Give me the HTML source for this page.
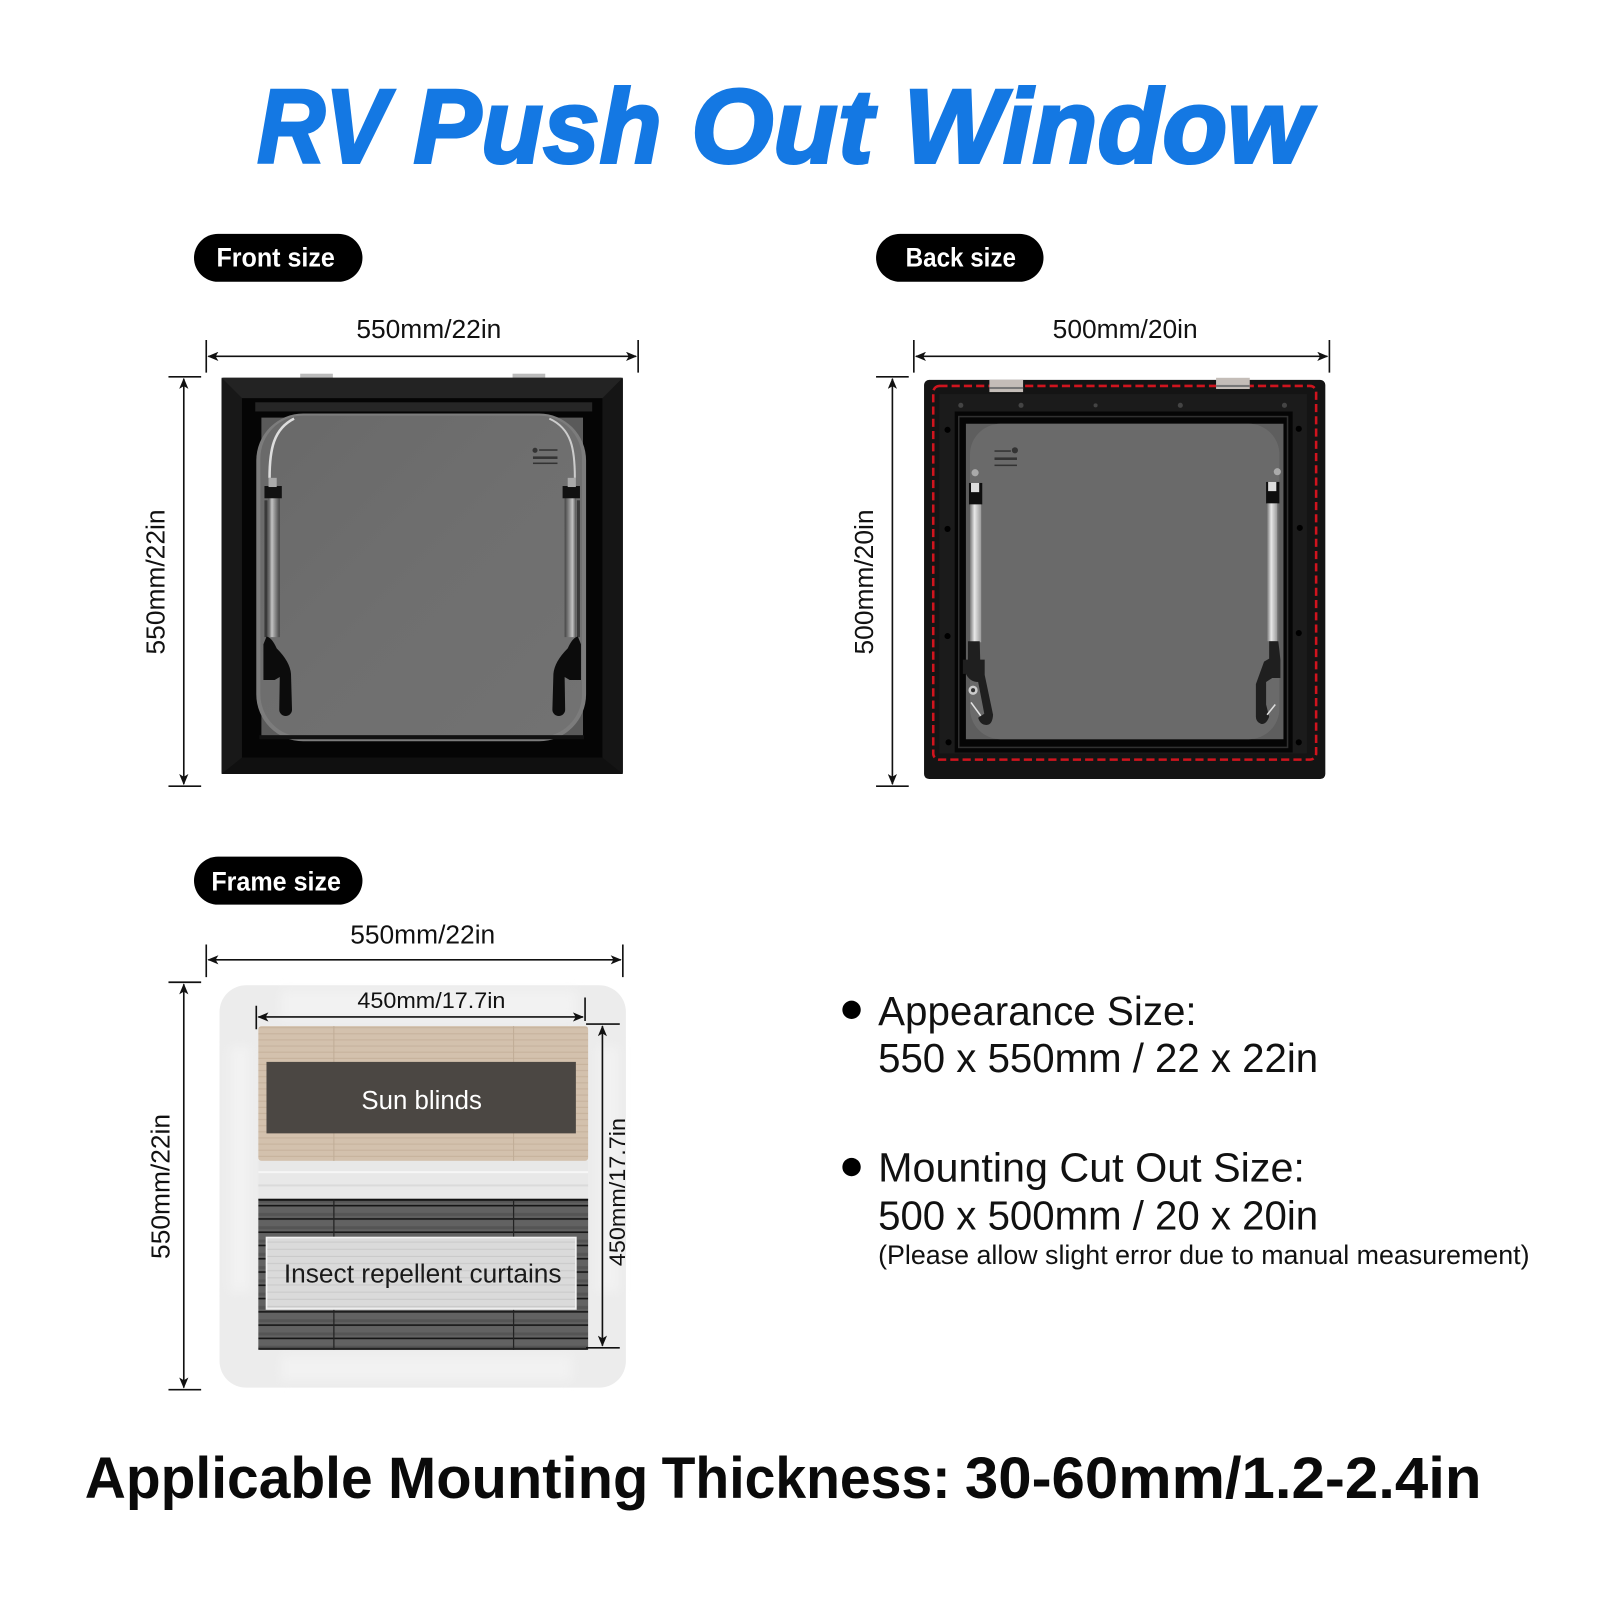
<!DOCTYPE html>
<html><head><meta charset="utf-8"><style>
html,body{margin:0;padding:0;background:#fff}
svg{display:block}
text{font-family:"Liberation Sans",sans-serif}
</style></head><body>
<svg xmlns="http://www.w3.org/2000/svg" width="1601" height="1601" viewBox="0 0 1568 1568">
<defs>
<marker id="a" viewBox="0 0 12 10" refX="11" refY="5" markerWidth="12" markerHeight="9" markerUnits="userSpaceOnUse" orient="auto-start-reverse"><path d="M0,0L12,5L0,10L3,5z" fill="#111"/></marker>
<filter id="b" x="-20%" y="-20%" width="140%" height="140%"><feGaussianBlur stdDeviation="5"/></filter>
<linearGradient id="g1" x1="0" x2="1" y1="0" y2="1"><stop offset="0" stop-color="#696969"/><stop offset=".5" stop-color="#6f6f6f"/><stop offset="1" stop-color="#727272"/></linearGradient>
<linearGradient id="st" x1="0" x2="1" y1="0" y2="0"><stop offset="0" stop-color="#777"/><stop offset=".4" stop-color="#e8e8e8"/><stop offset="1" stop-color="#999"/></linearGradient>
<linearGradient id="st2" x1="0" x2="1" y1="0" y2="0"><stop offset="0" stop-color="#555"/><stop offset=".3" stop-color="#c4c4c4"/><stop offset=".6" stop-color="#8a8a8a"/><stop offset="1" stop-color="#444"/></linearGradient>
<pattern id="beige" width="10" height="6" patternUnits="userSpaceOnUse"><rect width="10" height="6" fill="#d3c1ad"/><rect y="4" width="10" height="1" fill="#c6b29c"/></pattern>
<pattern id="dark" width="10" height="13" patternUnits="userSpaceOnUse"><rect width="10" height="13" fill="#626262"/><rect y="5" width="10" height="3" fill="#555"/><rect y="10" width="10" height="1.6" fill="#161616"/></pattern>
<pattern id="pale" width="10" height="7" patternUnits="userSpaceOnUse"><rect width="10" height="7" fill="#dadada"/><rect y="5" width="10" height="1" fill="#c9c9c9"/></pattern>
</defs>
<rect width="1568" height="1568" fill="#fff"/>

<!-- Title -->
<g font-size="103" font-weight="700" font-style="italic" fill="#1478e3" stroke="#1478e3" stroke-width="3">
<text x="252" y="159" textLength="128" lengthAdjust="spacingAndGlyphs">RV</text>
<text x="405" y="159" textLength="243" lengthAdjust="spacingAndGlyphs">Push</text>
<text x="677" y="159" textLength="178" lengthAdjust="spacingAndGlyphs">Out</text>
<text x="885" y="159" textLength="398" lengthAdjust="spacingAndGlyphs">Window</text>
</g>

<!-- Pills -->
<rect x="190" y="229" width="165" height="47" rx="23.5" fill="#000"/>
<text x="212" y="261" font-size="26" font-weight="700" fill="#fff" textLength="116" lengthAdjust="spacingAndGlyphs">Front size</text>
<rect x="858" y="229" width="164" height="47" rx="23.5" fill="#000"/>
<text x="887" y="261" font-size="26" font-weight="700" fill="#fff" textLength="108" lengthAdjust="spacingAndGlyphs">Back size</text>
<rect x="190" y="839" width="165" height="47" rx="23.5" fill="#000"/>
<text x="207" y="872" font-size="26" font-weight="700" fill="#fff" textLength="127" lengthAdjust="spacingAndGlyphs">Frame size</text>

<!-- Dimensions -->
<g stroke="#111" stroke-width="1.6" fill="none">
<path d="M202,333V365M625,333V365M165,369H197M165,770H197"/>
<path d="M204,349H623" marker-start="url(#a)" marker-end="url(#a)"/>
<path d="M180,371V768" marker-start="url(#a)" marker-end="url(#a)"/>
<path d="M895,333V365M1302,333V365M858,369H890M858,770H890"/>
<path d="M897,349H1300" marker-start="url(#a)" marker-end="url(#a)"/>
<path d="M874,371V768" marker-start="url(#a)" marker-end="url(#a)"/>
<path d="M202,925V957M610,925V957M165,962H197M165,1361H197"/>
<path d="M204,940H608" marker-start="url(#a)" marker-end="url(#a)"/>
<path d="M180,964V1359" marker-start="url(#a)" marker-end="url(#a)"/>
</g>
<g font-size="25" fill="#111">
<text x="349" y="331" textLength="142" lengthAdjust="spacingAndGlyphs">550mm/22in</text>
<text x="1031" y="331" textLength="142" lengthAdjust="spacingAndGlyphs">500mm/20in</text>
<text x="343" y="924" textLength="142" lengthAdjust="spacingAndGlyphs">550mm/22in</text>
<text transform="translate(161,641) rotate(-90)" textLength="142" lengthAdjust="spacingAndGlyphs">550mm/22in</text>
<text transform="translate(855,641) rotate(-90)" textLength="142" lengthAdjust="spacingAndGlyphs">500mm/20in</text>
<text transform="translate(166,1233) rotate(-90)" textLength="142" lengthAdjust="spacingAndGlyphs">550mm/22in</text>
</g>

<!-- FRONT WINDOW -->
<rect x="294" y="366" width="32" height="5" fill="#bbb"/><rect x="502" y="366" width="32" height="5" fill="#bbb"/>
<rect x="217" y="370" width="393" height="388" rx="2" fill="#151515"/>
<polygon points="217,370 610,370 590,390 237,390" fill="#232323"/>
<polygon points="217,370 237,390 237,742 217,758" fill="#181818"/>
<polygon points="610,370 590,390 590,742 610,758" fill="#151515"/>
<polygon points="217,758 610,758 590,742 237,742" fill="#101010"/>
<rect x="237" y="390" width="353" height="352" fill="#050505"/>
<rect x="250" y="394" width="330" height="9" fill="#262626"/>
<rect x="256" y="409" width="315" height="313" fill="#5a5a5a"/>
<rect x="251" y="405" width="323" height="321" rx="46" fill="#7c7c7c"/>
<rect x="255" y="407" width="315" height="315" rx="42" fill="url(#g1)"/>
<path d="M264,468C264,440 268,420 288,410" stroke="#ddd" stroke-width="2.5" fill="none"/>
<path d="M563,468C563,440 560,420 538,410" stroke="#ccc" stroke-width="2" fill="none"/>
<rect x="254" y="720" width="318" height="4" fill="#111"/>
<g id="fs">
<rect x="259" y="490" width="3" height="134" fill="#3a3a3a"/>
<rect x="263" y="486" width="11" height="138" fill="url(#st2)"/>
<rect x="259" y="476" width="17" height="12" fill="#111"/>
<rect x="263" y="468" width="8" height="9" fill="#aaa"/>
<path d="M261,623.5Q266,624 271,635Q284,648 285,660L286,695A6.2,6.2 0 0 1 273.5,695L274,663L269,666H258V631z" fill="#0c0c0c"/>
</g>
<use href="#fs" transform="translate(827,0) scale(-1,1)"/>
<g fill="#333"><circle cx="524" cy="441" r="2.5"/><rect x="528" y="440" width="18" height="1.5"/><rect x="522" y="447" width="24" height="2.5"/><rect x="522" y="453" width="24" height="1.5"/></g>

<!-- BACK WINDOW -->
<rect x="905" y="372" width="393" height="391" rx="5" fill="#141414"/>
<rect x="914" y="378" width="375" height="366" rx="6" fill="none" stroke="#d0141e" stroke-width="2.5" stroke-dasharray="8 4"/>
<rect x="920" y="386" width="360" height="352" fill="#1b1b1b"/>
<rect x="935" y="403" width="331" height="334" fill="#050505"/>
<rect x="939" y="408" width="322" height="324" fill="none" stroke="#303030" stroke-width="1.5"/>
<rect x="946" y="415" width="311" height="309" fill="#5e5e5e"/>
<rect x="950" y="415" width="303" height="309" rx="30" fill="#6a6a6a"/>
<rect x="969" y="372" width="33" height="12" fill="#c4bdb8"/><rect x="969" y="379" width="33" height="2" fill="#777"/>
<rect x="1191" y="370" width="33" height="11" fill="#c4bdb8"/><rect x="1191" y="377" width="33" height="2" fill="#777"/>
<g fill="#000"><circle cx="928" cy="421" r="3"/><circle cx="928" cy="518" r="3"/><circle cx="928" cy="623" r="3"/><circle cx="929" cy="727" r="3"/><circle cx="1272" cy="420" r="3"/><circle cx="1273" cy="517" r="3"/><circle cx="1272" cy="620" r="3"/><circle cx="1272" cy="727" r="3"/></g>
<g fill="#444"><circle cx="941" cy="397" r="2.5"/><circle cx="1000" cy="397" r="2.5"/><circle cx="1073" cy="397" r="2"/><circle cx="1156" cy="397" r="2.5"/><circle cx="1258" cy="397" r="2.5"/></g>
<g fill="#333"><rect x="974" y="441" width="16" height="1.5"/><rect x="974" y="448" width="22" height="2.5"/><circle cx="994" cy="441" r="3"/><rect x="974" y="455" width="22" height="1.5"/></g>
<circle cx="955" cy="463" r="3.5" fill="#aaa"/><circle cx="1251" cy="462" r="3.5" fill="#aaa"/>
<rect x="949" y="473" width="13" height="21" fill="#0e0e0e"/><rect x="951" y="473" width="8" height="9" fill="#ddd"/>
<rect x="950" y="494" width="11" height="135" fill="url(#st)"/>
<path d="M948,628H959.5L960,646H964.4V661L972.6,700Q972,710 966,710Q960,710 958,703L964,699L958,668Q950,668 946,660L943,660V646H948Z" fill="#1f1f1f"/>
<circle cx="953" cy="676" r="4.5" fill="#ccc"/><circle cx="953" cy="676" r="2" fill="#333"/>
<path d="M951,688L960.5,701" stroke="#e4e4e4" stroke-width="1.5"/>
<rect x="1240" y="472" width="13" height="21" fill="#0e0e0e"/><rect x="1242" y="472" width="8" height="9" fill="#ddd"/>
<rect x="1241" y="493" width="10" height="135" fill="url(#st)"/>
<path d="M1243,628H1252L1254,646V664H1246L1240,668 1240,690 1243,702Q1240,710 1235,709Q1230,707 1230,702L1230,670 1238,648 1243,645z" fill="#1f1f1f"/>
<path d="M1241,700L1249,690" stroke="#ddd" stroke-width="1.5"/>

<!-- FRAME -->
<rect x="215" y="965" width="398" height="394" rx="26" fill="#ececec"/>
<g fill="#f2f2f2" filter="url(#b)">
<rect x="275" y="970" width="290" height="28"/>
<rect x="225" y="1025" width="20" height="240"/>
<rect x="586" y="1025" width="20" height="240"/>
<rect x="275" y="1328" width="285" height="24"/>
</g>
<rect x="253" y="1005" width="323" height="132" rx="3" fill="url(#beige)"/>
<rect x="253" y="1137" width="323" height="38" fill="#e8e8e8"/>
<rect x="253" y="1147" width="323" height="2" fill="#f6f6f6"/>
<rect x="253" y="1160" width="323" height="2" fill="#dadada"/>
<rect x="253" y="1175" width="323" height="147" rx="2" fill="url(#dark)"/>
<rect x="253" y="1174" width="323" height="2" fill="#111"/>
<rect x="253" y="1320" width="323" height="2" fill="#222"/>
<path d="M327,1175V1322M503,1175V1322" stroke="#222" stroke-width="1.2"/>
<path d="M327,1005V1137M503,1005V1137" stroke="#c0ad97" stroke-width="1"/>
<rect x="261" y="1040" width="303" height="70" fill="#4b4743"/>
<rect x="261" y="1212" width="303" height="70" fill="url(#pale)" stroke="#f2f2f2" stroke-width="1.6"/>
<text x="354" y="1086" font-size="25" fill="#fff" textLength="118" lengthAdjust="spacingAndGlyphs">Sun blinds</text>
<text x="278" y="1256" font-size="25" fill="#1a1a1a" textLength="272" lengthAdjust="spacingAndGlyphs">Insect repellent curtains</text>
<g stroke="#111" stroke-width="1.6" fill="none">
<path d="M251,985V1008M573,977V1000M574,1003H607M574,1320H607"/>
<path d="M253,996H571" marker-start="url(#a)" marker-end="url(#a)"/>
<path d="M590,1005V1318" marker-start="url(#a)" marker-end="url(#a)"/>
</g>
<text x="350" y="987" font-size="22" fill="#111" textLength="145" lengthAdjust="spacingAndGlyphs">450mm/17.7in</text>
<text transform="translate(612,1240) rotate(-90)" font-size="22" fill="#111" textLength="145" lengthAdjust="spacingAndGlyphs">450mm/17.7in</text>

<!-- Spec text -->
<circle cx="834" cy="989" r="9" fill="#000"/>
<circle cx="834" cy="1143" r="9" fill="#000"/>
<g font-size="40" fill="#111">
<text x="860" y="1004" textLength="312" lengthAdjust="spacingAndGlyphs">Appearance Size:</text>
<text x="860" y="1050" textLength="431" lengthAdjust="spacingAndGlyphs">550 x 550mm / 22 x 22in</text>
<text x="860" y="1157" textLength="418" lengthAdjust="spacingAndGlyphs">Mounting Cut Out Size:</text>
<text x="860" y="1204" textLength="431" lengthAdjust="spacingAndGlyphs">500 x 500mm / 20 x 20in</text>
</g>
<text x="860" y="1238" font-size="26" fill="#111" textLength="638" lengthAdjust="spacingAndGlyphs">(Please allow slight error due to manual measurement)</text>

<g font-size="57" font-weight="700" fill="#0a0a0a">
<text x="83" y="1467" textLength="282" lengthAdjust="spacingAndGlyphs">Applicable</text>
<text x="380" y="1467" textLength="255" lengthAdjust="spacingAndGlyphs">Mounting</text>
<text x="648" y="1467" textLength="283" lengthAdjust="spacingAndGlyphs">Thickness:</text>
<text x="945" y="1467" textLength="506" lengthAdjust="spacingAndGlyphs">30-60mm/1.2-2.4in</text>
</g>
</svg>
</body></html>
